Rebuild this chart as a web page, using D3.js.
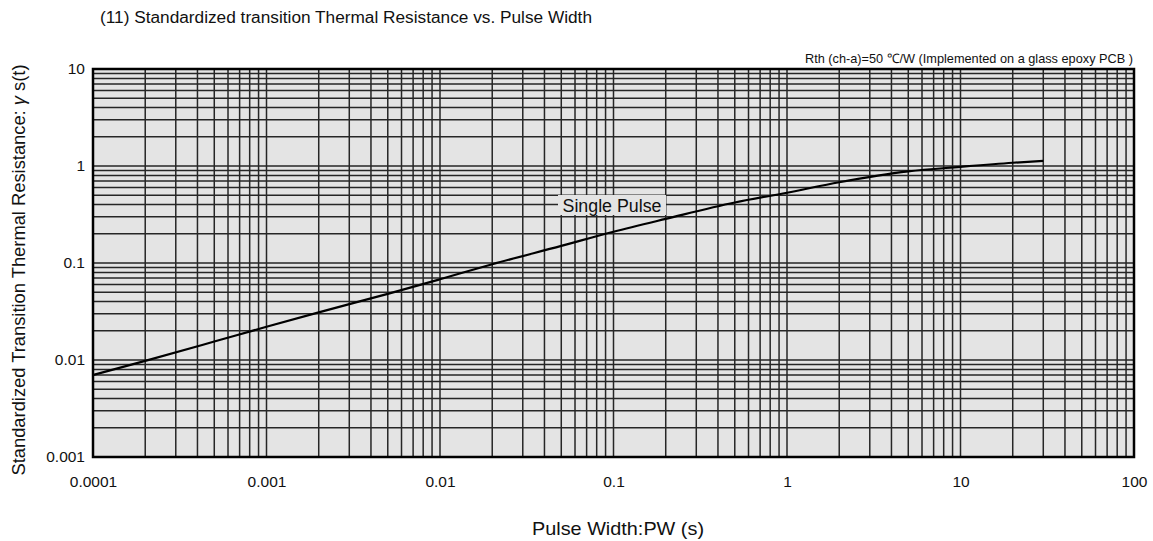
<!DOCTYPE html>
<html><head><meta charset="utf-8">
<script src="https://cdn.jsdelivr.net/npm/d3@7"></script>
<style>body{margin:0;background:#fff;} text{font-family:"Liberation Sans",Arial,sans-serif;fill:#111;}</style>
</head><body>
<svg id="c" width="1153" height="541"></svg>
<script>
const pulseWidth = [0.0001, 0.0002, 0.0005, 0.001, 0.002, 0.005, 0.01, 0.02, 0.05, 0.1, 0.2, 0.5, 1, 2, 5, 10, 20, 30];
const rthValues  = [0.007, 0.0098, 0.0155, 0.022, 0.031, 0.048, 0.068, 0.097, 0.15, 0.21, 0.285, 0.42, 0.53, 0.68, 0.88, 0.98, 1.08, 1.13];
const xTicks = [0.0001, 0.001, 0.01, 0.1, 1, 10, 100];
const xTickLabels = ["0.0001", "0.001", "0.01", "0.1", "1", "10", "100"];
const yTicks = [0.001, 0.01, 0.1, 1, 10];
const yTickLabels = ["0.001", "0.01", "0.1", "1", "10"];

const svg = d3.select("#c");
const L = 93, R = 1134, T = 69, B = 457;
const x = d3.scaleLog().domain([0.0001, 100]).range([L, R]);
const y = d3.scaleLog().domain([0.001, 10]).range([B, T]);

svg.append("rect").attr("x", L).attr("y", T).attr("width", R - L).attr("height", B - T).attr("fill", "#e4e4e4");

const minorX = [];
for (let e = -4; e < 2; e++) for (let m = 1; m <= 9; m++) minorX.push(m * Math.pow(10, e));
const minorY = [];
for (let e = -3; e < 1; e++) for (let m = 1; m <= 9; m++) minorY.push(m * Math.pow(10, e));

const g = svg.append("g");
g.selectAll("line.vx").data(minorX).join("line")
  .attr("x1", d => x(d)).attr("x2", d => x(d)).attr("y1", T).attr("y2", B)
  .attr("stroke", "#262626").attr("stroke-width", 1.5);
g.selectAll("line.hy").data(minorY).join("line")
  .attr("y1", d => y(d)).attr("y2", d => y(d)).attr("x1", L).attr("x2", R)
  .attr("stroke", "#262626").attr("stroke-width", 1.5);

const fam = "Liberation Sans, Arial, sans-serif";
const xa = svg.append("g").attr("transform", `translate(0,${B})`)
  .call(d3.axisBottom(x).tickValues(xTicks).tickFormat((d, i) => xTickLabels[i]).tickSize(0).tickPadding(19));
xa.select(".domain").remove();
xa.selectAll("text").attr("font-size", 15.5).attr("fill", "#111").style("font-family", fam);
const ya = svg.append("g").attr("transform", `translate(${L},0)`)
  .call(d3.axisLeft(y).tickValues(yTicks).tickFormat((d, i) => yTickLabels[i]).tickSize(0).tickPadding(8));
ya.select(".domain").remove();
ya.selectAll("text").attr("font-size", 15.5).attr("fill", "#111").style("font-family", fam);

svg.append("rect").attr("x", L).attr("y", T).attr("width", R - L).attr("height", B - T)
  .attr("fill", "none").attr("stroke", "#000").attr("stroke-width", 2.5);

const line = d3.line().x((d, i) => x(pulseWidth[i])).y(d => y(d)).curve(d3.curveMonotoneX);
svg.append("path").datum(rthValues).attr("d", line).attr("fill", "none").attr("stroke", "#000").attr("stroke-width", 2.2);

const lbl = svg.append("g");
lbl.append("rect").attr("x", 558).attr("y", 195).attr("width", 108).attr("height", 20).attr("fill", "#e4e4e4");
lbl.append("text").attr("x", 612).attr("y", 212).attr("text-anchor", "middle").attr("font-size", 18)
  .attr("textLength", 99).attr("lengthAdjust", "spacingAndGlyphs").text("Single Pulse");

svg.append("text").attr("x", 100).attr("y", 23).attr("font-size", 16)
  .attr("textLength", 492).attr("lengthAdjust", "spacingAndGlyphs")
  .text("(11) Standardized transition Thermal Resistance vs. Pulse Width");
svg.append("text").attr("x", 1133).attr("y", 63).attr("text-anchor", "end").attr("font-size", 13)
  .attr("textLength", 328).attr("lengthAdjust", "spacingAndGlyphs")
  .text("Rth (ch-a)=50 ℃/W (Implemented on a glass epoxy PCB )");
svg.append("text").attr("x", 618).attr("y", 535).attr("text-anchor", "middle").attr("font-size", 19)
  .attr("textLength", 172).attr("lengthAdjust", "spacingAndGlyphs").text("Pulse Width:PW (s)");
const yt = svg.append("text").attr("transform", "translate(25,270) rotate(-90)").attr("text-anchor", "middle").attr("font-size", 18)
  .attr("textLength", 411).attr("lengthAdjust", "spacingAndGlyphs");
yt.append("tspan").text("Standardized Transition Thermal Resistance: ");
yt.append("tspan").attr("font-style", "italic").text("γ");
yt.append("tspan").text(" s(t)");
</script>
</body></html>
